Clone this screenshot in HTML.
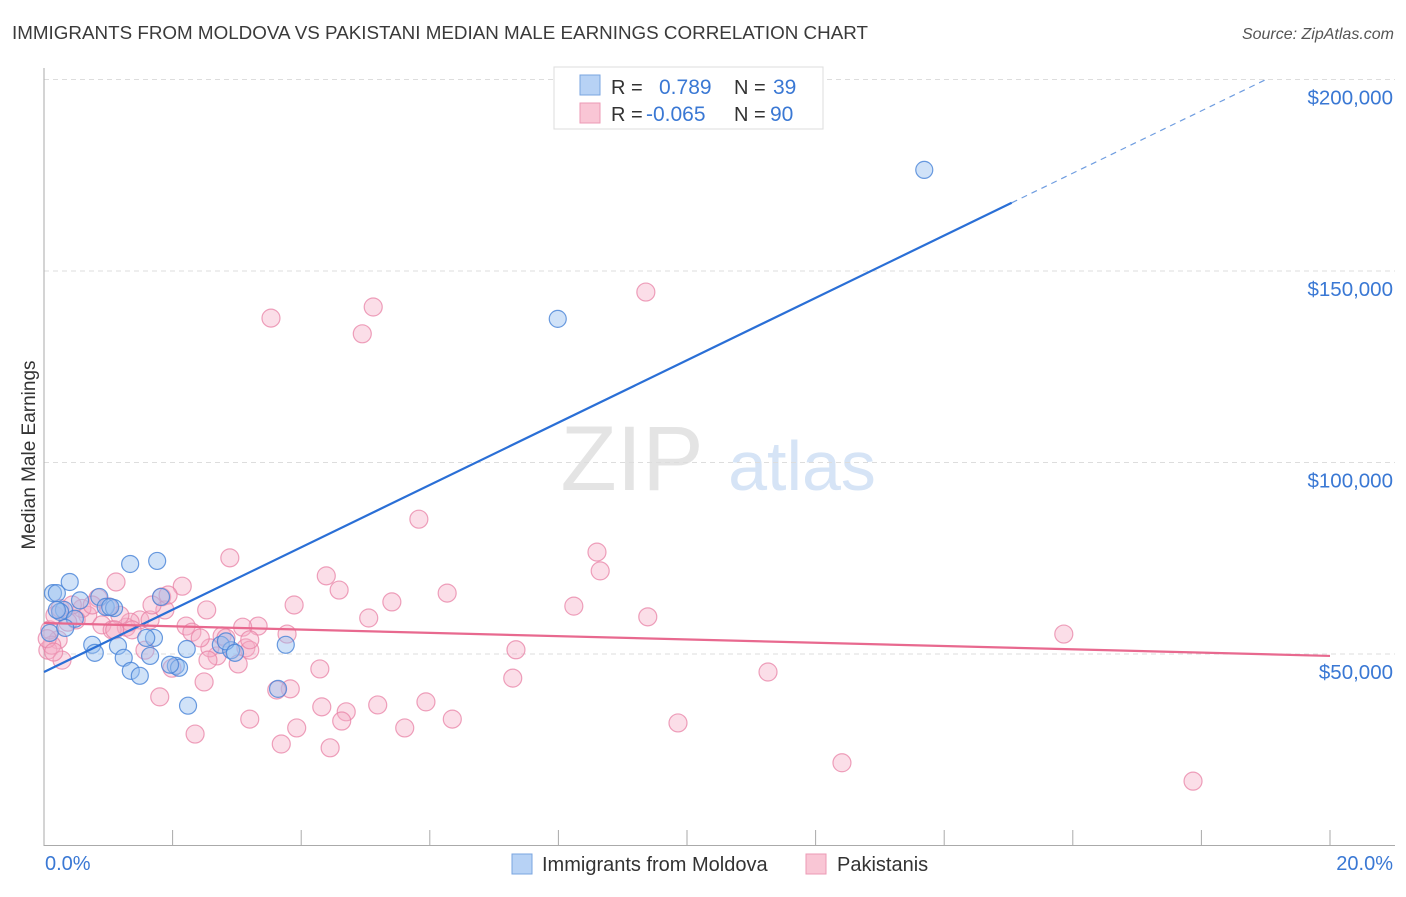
<!DOCTYPE html>
<html><head><meta charset="utf-8">
<style>
body{margin:0;background:#fff;font-family:"Liberation Sans",sans-serif;}
svg text{font-family:"Liberation Sans",sans-serif;}
</style></head>
<body>
<svg id="chart" width="1406" height="892" viewBox="0 0 1406 892" xmlns="http://www.w3.org/2000/svg">
<text x="12" y="39" font-size="18" fill="#3a3a3a" textLength="856" lengthAdjust="spacingAndGlyphs">IMMIGRANTS FROM MOLDOVA VS PAKISTANI MEDIAN MALE EARNINGS CORRELATION CHART</text>
<text x="1394" y="39" font-size="16" fill="#555" font-style="italic" text-anchor="end">Source: ZipAtlas.com</text>
<text transform="translate(35,455) rotate(-90)" font-size="19" fill="#333" text-anchor="middle">Median Male Earnings</text>
<g>
<text x="632" y="490" font-size="92" fill="#e4e4e4" font-family="Liberation Serif, serif" text-anchor="middle">ZIP</text>
<text x="802" y="490" font-size="70" fill="#d6e4f6" text-anchor="middle">atlas</text>
</g>
<g id="grid"></g>
<g id="axes"></g>
<g id="pts"></g>
<g id="trends"></g>
<g>
<rect x="554" y="67" width="269" height="62" fill="#fff" stroke="#ddd"/>
<rect x="580" y="75" width="20" height="20" fill="#b7d2f5" stroke="#7aa5e0"/>
<rect x="580" y="103" width="20" height="20" fill="#f9c6d5" stroke="#ec9ab5"/>
<text x="611" y="94" font-size="20" fill="#333">R =</text>
<text x="659" y="94" font-size="21" fill="#3a78d4">0.789</text>
<text x="734" y="94" font-size="20" fill="#333">N =</text>
<text x="773" y="94" font-size="21" fill="#3a78d4">39</text>
<text x="611" y="121" font-size="20" fill="#333">R =</text>
<text x="646" y="121" font-size="21" fill="#3a78d4">-0.065</text>
<text x="734" y="121" font-size="20" fill="#333">N =</text>
<text x="770" y="121" font-size="21" fill="#3a78d4">90</text>
</g>
<g>
<rect x="512" y="854" width="20" height="20" fill="#b7d2f5" stroke="#7aa5e0"/>
<text x="542" y="871" font-size="20" fill="#333">Immigrants from Moldova</text>
<rect x="806" y="854" width="20" height="20" fill="#f9c6d5" stroke="#ec9ab5"/>
<text x="837" y="871" font-size="20" fill="#333">Pakistanis</text>
</g>
</svg>
<script>
const yTicks=[50000,100000,150000,200000];
const yTickLabels=["$50,000","$100,000","$150,000","$200,000"];
const xTickVals=[0,2,4,6,8,10,12,14,16,18,20];
const xEndLabels=["0.0%","20.0%"];
const blueX=[0.14,0.2,0.4,0.31,0.25,0.48,0.75,0.86,0.96,1.09,1.15,1.24,1.34,1.35,1.49,1.76,1.71,1.59,2.05,2.1,2.24,1.96,1.82,2.22,2.75,2.91,2.83,3.76,3.64,7.99,13.69,0.09,0.2,0.79,1.03,1.65,0.33,0.56,2.97];
const blueY=[65.9,65.9,68.8,61.5,61.0,59.2,52.4,64.9,62.3,62.0,52.1,49.0,73.5,45.6,44.3,74.3,54.2,54.2,46.9,46.4,36.5,47.2,64.9,51.3,52.4,51.0,53.3,52.4,40.9,137.5,176.4,55.5,61.5,50.3,62.3,49.5,56.8,64.0,50.3];
const pinkX=[3.53,5.12,4.95,9.36,5.83,8.60,8.65,2.89,1.12,2.15,1.83,4.39,4.59,6.27,5.41,3.89,5.05,8.24,9.39,2.53,3.33,3.09,3.78,2.77,7.34,15.86,2.21,2.30,4.29,7.29,11.26,2.49,1.80,3.83,3.62,5.19,5.94,4.32,4.70,4.63,3.20,6.35,3.93,5.61,9.86,2.35,3.69,4.45,12.41,17.87,1.57,1.99,2.69,3.14,3.02,2.58,2.83,1.49,1.28,1.34,1.18,1.00,0.84,0.68,0.59,0.50,0.37,0.22,0.09,0.06,0.17,0.25,0.44,0.75,0.90,1.06,1.37,1.65,1.88,1.93,1.68,1.10,2.43,2.55,3.20,3.20,0.28,0.12,0.05,0.15];
const pinkY=[137.7,140.6,133.6,144.5,85.2,76.6,71.7,75.1,68.8,67.7,64.9,70.4,66.7,65.9,63.6,62.8,59.4,62.5,59.7,61.5,57.3,57.0,55.2,54.7,51.1,55.2,57.3,55.7,46.1,43.7,45.3,42.7,38.8,40.9,40.6,36.7,37.5,36.2,34.9,32.5,33.0,33.0,30.7,30.7,32.0,29.1,26.5,25.5,21.6,16.8,51.0,46.3,49.5,51.6,47.4,51.6,54.2,58.9,57.0,58.3,60.1,62.3,64.6,60.1,61.9,58.9,58.3,53.7,56.3,51.0,60.1,61.9,62.8,62.8,57.6,56.3,56.3,58.9,61.5,65.4,62.8,56.3,54.2,48.4,51.0,53.7,48.4,52.3,54.0,50.5];
const blueTrend=[45.3,8.14]; // intercept ($k), slope per %
const blueSolidEnd=[15.05];
const pinkTrend=[58.1,-0.43];

const NS="http://www.w3.org/2000/svg";
const X0=44,X1=1330,Y0=845.5,PXK=3.83;
function sx(v){return X0+(X1-X0)*v/20;}
function sy(k){return Y0-k*PXK;}
function mk(tag,attrs,parent){const e=document.createElementNS(NS,tag);for(const k in attrs)e.setAttribute(k,attrs[k]);parent.appendChild(e);return e;}
const grid=document.getElementById('grid'),axes=document.getElementById('axes'),pts=document.getElementById('pts'),tr=document.getElementById('trends');
yTicks.forEach((t,i)=>{
  const y=sy(t/1000);
  const l=mk('line',{x1:44,x2:1395,y1:y,y2:y,stroke:'#ddd','stroke-dasharray':'5,4'},grid);
  
  
  const tx=mk('text',{x:1393,y:y+25,'font-size':'20.5',fill:'#3a78d4','text-anchor':'end'},axes);
  tx.textContent=yTickLabels[i];
  
  
});
const ax=mk('path',{d:'M44 68 V845.5 H1395',stroke:'#aaa',fill:'none'},axes);


xTickVals.forEach(v=>{
  const t=mk('line',{x1:sx(v),x2:sx(v),y1:830,y2:845.5,stroke:'#aaa'},axes);
  
  
});
const xl0=mk('text',{x:45,y:870,'font-size':'20',fill:'#3a78d4'},axes);xl0.textContent=xEndLabels[0];


const xl1=mk('text',{x:1393,y:870,'font-size':'20',fill:'#3a78d4','text-anchor':'end'},axes);xl1.textContent=xEndLabels[1];


pinkX.forEach((v,i)=>{
  const c=mk('circle',{cx:sx(v),cy:sy(pinkY[i]),r:9,fill:'rgba(246,172,198,0.4)',stroke:'rgba(232,130,165,0.75)','stroke-width':'1.2'},pts);
  
  
});
blueX.forEach((v,i)=>{
  const c=mk('circle',{cx:sx(v),cy:sy(blueY[i]),r:8.5,fill:'rgba(150,190,240,0.45)',stroke:'rgba(70,130,215,0.8)','stroke-width':'1.2'},pts);
  
  
});
const bf=v=>blueTrend[0]+blueTrend[1]*v;
const se=blueSolidEnd[0];
const xEndDash=(200-blueTrend[0])/blueTrend[1];
const b1=mk('line',{x1:sx(0),y1:sy(bf(0)),x2:sx(se),y2:sy(bf(se)),stroke:'#2a6fd6','stroke-width':'2.2'},tr);


const b2=mk('line',{x1:sx(se),y1:sy(bf(se)),x2:sx(xEndDash),y2:sy(bf(xEndDash)),stroke:'#6f9de0','stroke-width':'1.2','stroke-dasharray':'6,5'},tr);


const pf=v=>pinkTrend[0]+pinkTrend[1]*v;
const p1=mk('line',{x1:sx(0),y1:sy(pf(0)),x2:sx(20),y2:sy(pf(20)),stroke:'#e8698f','stroke-width':'2.2'},tr);


</script>
</body></html>
